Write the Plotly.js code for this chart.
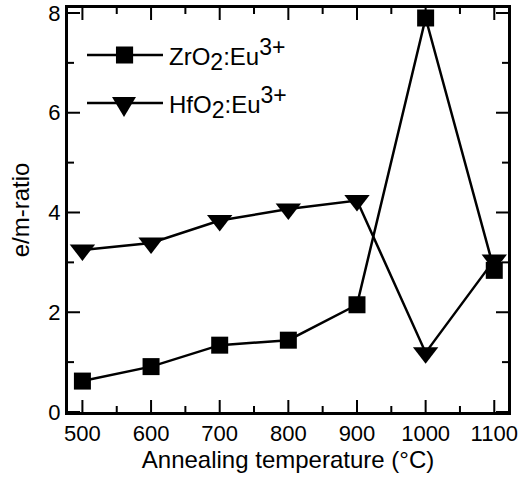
<!DOCTYPE html>
<html><head><meta charset="utf-8">
<script src="https://cdn.plot.ly/plotly-3.0.1.min.js"></script>
<style>body{margin:0;background:#fff}</style>
</head><body>
<div id="chart" style="width:520px;height:481px"></div>
<script>
const temps = [500, 600, 700, 800, 900, 1000, 1100];
const zro2 = [0.62, 0.91, 1.34, 1.44, 2.15, 7.9, 2.84];
const hfo2 = [3.25, 3.39, 3.84, 4.07, 4.24, 1.19, 3.05];
const xTickVals = [500, 600, 700, 800, 900, 1000, 1100];
const xMinorVals = [550, 650, 750, 850, 950, 1050];
const yTickVals = [0, 2, 4, 6, 8];
const yMinorVals = [1, 3, 5, 7];
const ss = (t) => '<span style="font-size:23px">' + t + '</span>';
const seriesNames = ['ZrO<sub>' + ss('2') + '</sub>:Eu<sup>' + ss('3+') + '</sup>',
                     'HfO<sub>' + ss('2') + '</sub>:Eu<sup>' + ss('3+') + '</sup>'];
const xTitle = 'Annealing temperature (°C)';
const yTitle = 'e/m-ratio';

const fam = 'Liberation Sans, Arial, sans-serif';
const font = (s) => ({family: fam, size: s, color: '#000'});
const xRange = [479, 1120], yRange = [0, 8.1];

// tick marks as one line trace on the axes' own scales (length: pixels -> axis units)
const plotW = 440, plotH = 404;
const ux = (px) => px * (xRange[1] - xRange[0]) / plotW;
const uy = (px) => px * (yRange[1] - yRange[0]) / plotH;
const tx = [], ty = [];
xTickVals.concat(xMinorVals).forEach(v => {
  const L = uy(xTickVals.includes(v) ? 12 : 6);
  tx.push(v, v, null, v, v, null);
  ty.push(yRange[0], yRange[0] + L, null, yRange[1], yRange[1] - L, null);
});
yTickVals.concat(yMinorVals).forEach(v => {
  const L = ux(yTickVals.includes(v) ? 12 : 6);
  tx.push(xRange[0], xRange[0] + L, null, xRange[1], xRange[1] - L, null);
  ty.push(v, v, null, v, v, null);
});

const traces = [
  {x: tx, y: ty, type: 'scatter', mode: 'lines', line: {color: '#000', width: 2},
   hoverinfo: 'skip', showlegend: false, connectgaps: false},
  {x: temps, y: zro2, name: seriesNames[0], type: 'scatter', mode: 'lines+markers',
   line: {color: '#000', width: 2.5}, marker: {symbol: 'square', size: 17, color: '#000'}},
  {x: temps, y: hfo2, name: seriesNames[1], type: 'scatter', mode: 'lines+markers',
   line: {color: '#000', width: 2.5}, marker: {symbol: 'triangle-down', size: 22, color: '#000'}}
];

const legendShapes = [
  {type: 'line', xref: 'paper', yref: 'paper', x0: 0.0432, x1: 0.2159, y0: 0.8837, y1: 0.8837,
   line: {color: '#000', width: 2.5}},
  {type: 'rect', xref: 'paper', yref: 'paper', x0: 0.109, x1: 0.148, y0: 0.8626, y1: 0.9047,
   fillcolor: '#000', line: {width: 0}},
  {type: 'line', xref: 'paper', yref: 'paper', x0: 0.0432, x1: 0.2159, y0: 0.7649, y1: 0.7649,
   line: {color: '#000', width: 2.5}},
  {type: 'path', xref: 'paper', yref: 'paper', path: 'M 0.100 0.7797 L 0.1545 0.7797 L 0.1273 0.7302 Z',
   fillcolor: '#000', line: {width: 0}}
];

const axisBase = {
  showline: true, linecolor: '#000', linewidth: 3, mirror: true, ticks: '',
  showgrid: false, zeroline: false, tickfont: font(22)
};

const layout = {
  width: 520, height: 481,
  margin: {l: 68, r: 12, t: 8, b: 69},
  paper_bgcolor: '#fff', plot_bgcolor: '#fff',
  showlegend: false,
  xaxis: Object.assign({}, axisBase, {
    range: xRange, tickmode: 'array', tickvals: xTickVals,
    title: {text: xTitle, font: font(24), standoff: 4}
  }),
  yaxis: Object.assign({}, axisBase, {
    range: yRange, tickmode: 'array', tickvals: yTickVals,
    title: {text: yTitle, font: font(24), standoff: 12}
  }),
  shapes: legendShapes,
  annotations: [
    {xref: 'paper', yref: 'paper', x: 0.225, y: 0.8837, xanchor: 'left', yanchor: 'middle',
     text: seriesNames[0], showarrow: false, font: font(24)},
    {xref: 'paper', yref: 'paper', x: 0.225, y: 0.7649, xanchor: 'left', yanchor: 'middle',
     text: seriesNames[1], showarrow: false, font: font(24)}
  ]
};
Plotly.newPlot('chart', traces, layout, {displayModeBar: false});
</script>
</body></html>
